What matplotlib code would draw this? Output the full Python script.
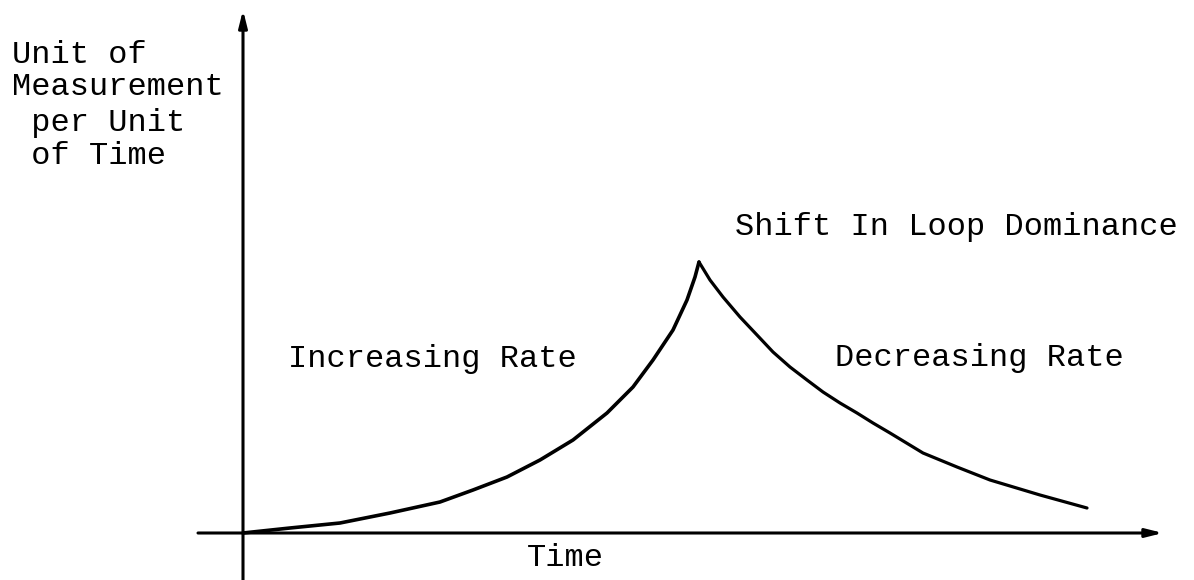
import matplotlib
matplotlib.use("Agg")
import matplotlib.pyplot as plt

# Curve readings (time units from origin, rate units above the time axis)
rise_time = [0, 47, 97, 147, 197, 230, 264, 297, 330, 364, 390, 410, 430, 444, 452, 456]
rise_rate = [0, 5, 10, 20, 31, 43, 56, 73, 93, 120, 146, 173, 203, 233, 256, 271]
fall_time = [456, 467, 480, 497, 514, 530, 547, 564, 580, 597, 614, 630, 647, 680, 714, 747, 797, 844]
fall_rate = [271, 253, 236, 216, 198, 181, 166, 153, 141, 130, 120, 110, 100, 80, 66, 53, 38, 25]

ylabel_lines = ["Unit of", "Measurement", " per Unit", " of Time"]
xlabel = "Time"
peak_label = "Shift In Loop Dominance"
left_label = "Increasing Rate"
right_label = "Decreasing Rate"

fig = plt.figure(figsize=(11.94, 5.80), dpi=100)
ax = fig.add_axes([0, 0, 1, 1])
ax.set_xlim(-243, 951)
ax.set_ylim(-47, 533)
ax.axis("off")

font = dict(family="Liberation Mono", fontsize=23, color="black", va="baseline", ha="left")

# Axes with arrows
ax.annotate("", xy=(920, 0), xytext=(-45, 0),
            arrowprops=dict(arrowstyle="-|>,head_length=1.0,head_width=0.25", lw=2.2, color="black",
                            shrinkA=0, shrinkB=0))
ax.annotate("", xy=(0, 523), xytext=(0, -47),
            arrowprops=dict(arrowstyle="-|>,head_length=1.0,head_width=0.25", lw=2.2, color="black",
                            shrinkA=0, shrinkB=0))

# Curve
ax.plot(rise_time, rise_rate, color="black", lw=2.6, solid_joinstyle="round", solid_capstyle="round")
ax.plot(fall_time, fall_rate, color="black", lw=2.3, solid_joinstyle="round", solid_capstyle="round")

# Texts
baselines = [470, 438, 402, 369]
for line, yb in zip(ylabel_lines, baselines):
    ax.text(-231, yb, line, **font)
ax.text(284, -33, xlabel, **font)
ax.text(492, 298, peak_label, **font)
ax.text(45, 166, left_label, **font)
ax.text(592, 167, right_label, **font)

fig.savefig("out.png", dpi=100, facecolor="white")
